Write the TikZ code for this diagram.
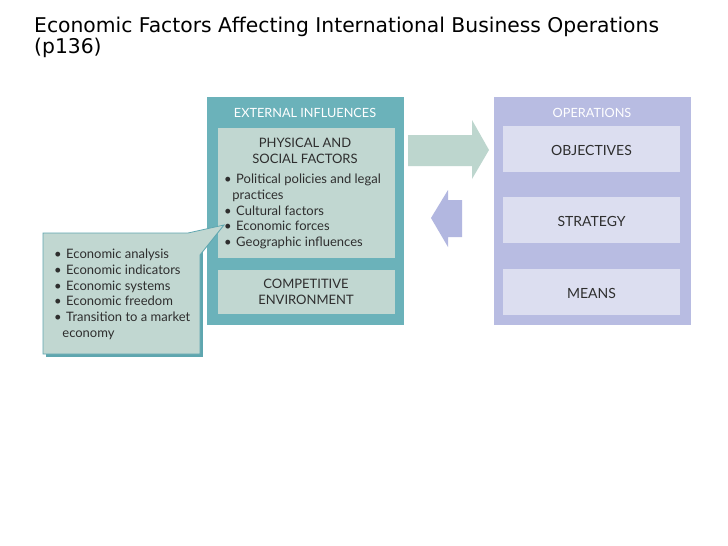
\documentclass[tikz,border=0pt]{standalone}
\usepackage{fontspec}
\setmainfont{Lato}
\newfontfamily\titlefont{DejaVu Sans}
\usetikzlibrary{positioning}
\definecolor{extteal}{HTML}{6BB2BA}
\definecolor{extedge}{HTML}{5EA6AF}
\definecolor{extlight}{HTML}{C1D7D1}
\definecolor{opsblue}{HTML}{B8BCE2}
\definecolor{opslight}{HTML}{DCDEF0}
\definecolor{arrgreen}{HTML}{BDD6CE}
\definecolor{arrblue}{HTML}{B2B7E0}
\definecolor{txtgray}{HTML}{2E2E2E}
\newcommand{\bul}{\textbullet\hspace{4.5pt}}
\newcommand{\cont}{\hspace*{8.2pt}}
\tikzset{
  outerbox/.style={draw=#1, fill=#1, minimum width=196pt, minimum height=227pt, inner sep=0pt},
  innerbox/.style={fill=#1, minimum width=177pt, inner sep=0pt},
  headtext/.style={text=white, font=\fontsize{12.7}{14}\selectfont},
  bodytext/.style={text=txtgray, font=\fontsize{13}{15.9}\selectfont, inner sep=0pt},
  opstext/.style={text=txtgray, font=\fontsize{14}{16}\selectfont, inner sep=0pt, yshift=-1.5pt},
}
\begin{document}
\begin{tikzpicture}[x=1pt, y=-1pt]
\useasboundingbox (0,0) rectangle (728,546);
\fill[white] (0,0) rectangle (728,546);
% title
\node[anchor=base west, inner sep=0pt, font=\titlefont\fontsize{20.3}{24}\selectfont] (title) at (34,32) {Economic Factors Affecting International Business Operations};
\node[anchor=base west, inner sep=0pt, font=\titlefont\fontsize{20.3}{24}\selectfont] (page) at (34,53.5) {(p136)};
% external influences
\node[outerbox=extteal] (external) at (305,210.5) {};
\node[headtext, anchor=base] (exthead) at (305,117.5) {EXTERNAL INFLUENCES};
\node[innerbox=extlight, minimum height=130pt] (physical) at (306,193) {};
\node[bodytext, align=center, anchor=north] (phyhead) at (305,137.5) {PHYSICAL AND\\SOCIAL FACTORS};
\node[bodytext, align=left, anchor=north west] (phylist) at (224,173.5)
  {\bul Political policies and legal\\\cont practices\\\bul Cultural factors\\\bul Economic forces\\\bul Geographic influences};
\node[innerbox=extlight, minimum height=44pt] (competitive) at (306,292) {};
\node[bodytext, align=center] (comptext) at (306,292) {COMPETITIVE\\ENVIRONMENT};
% operations
\node[outerbox=opsblue] (operations) at (592,210.5) {};
\node[headtext, anchor=base] (opshead) at (592,117.5) {OPERATIONS};
\node[innerbox=opslight, minimum height=46pt] (objectives) at (591.5,149) {};
\node[opstext] at (objectives) {OBJECTIVES};
\node[innerbox=opslight, minimum height=46pt] (strategy) at (591.5,220) {};
\node[opstext] at (strategy) {STRATEGY};
\node[innerbox=opslight, minimum height=46pt] (means) at (591.5,291.5) {};
\node[opstext] at (means) {MEANS};
% block arrows
\fill[arrgreen] (408,135) -- (472,135) -- (472,120) -- (489,150) -- (472,179) -- (472,166) -- (408,166) -- cycle;
\fill[arrblue] (462,200) -- (448,200) -- (448,190) -- (431,218) -- (448,247) -- (448,237) -- (462,237) -- cycle;
% callout
\coordinate (tip) at (224,225);
\fill[extedge] (46,236) -- (203,236) -- (203,357) -- (46,357) -- cycle;
\filldraw[fill=extlight, draw=extedge, line width=0.8pt] (43,233) -- (188,233) -- (tip) -- (200,255) -- (200,354) -- (43,354) -- cycle;
\node[bodytext, align=left, anchor=north west] (econlist) at (54,248.5)
  {\bul Economic analysis\\\bul Economic indicators\\\bul Economic systems\\\bul Economic freedom\\\bul Transition to a market\\\cont economy};
\end{tikzpicture}
\end{document}
